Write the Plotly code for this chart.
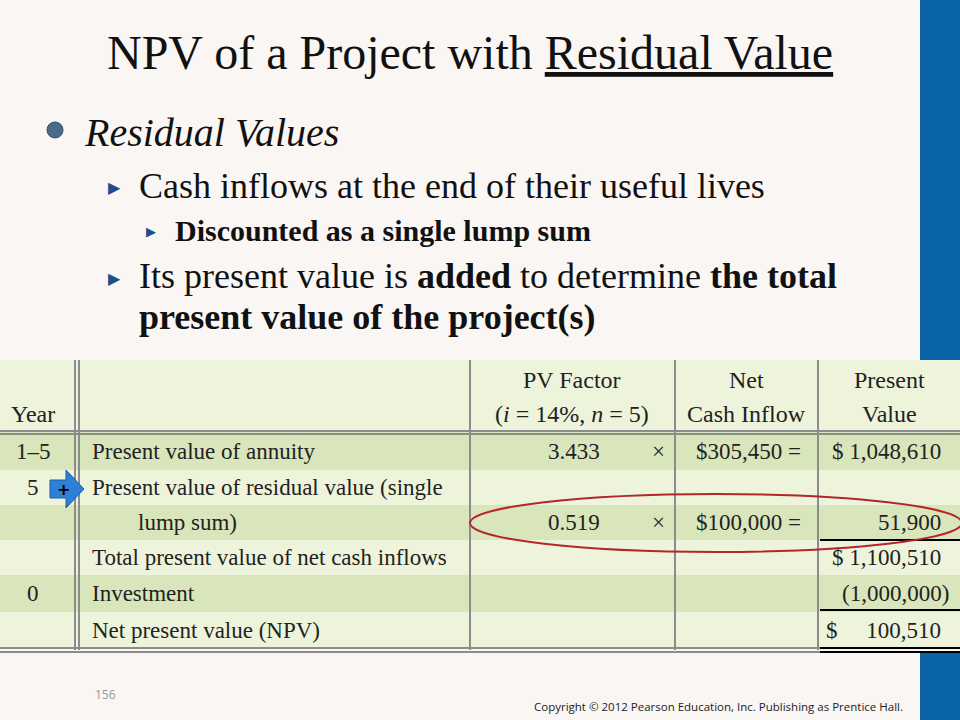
import plotly.graph_objects as go

# table data
years = ["1\u20135", "5", "", "", "0", ""]
items = ["Present value of annuity",
         "Present value of residual value (single",
         "        lump sum)",
         "Total present value of net cash inflows",
         "Investment",
         "Net present value (NPV)"]
pv_factors = ["3.433", "", "0.519", "", "", ""]
inflows = ["$305,450 =", "", "$100,000 =", "", "", ""]
present_values = ["$ 1,048,610", "", "51,900", "$ 1,100,510", "(1,000,000)", "$\u2003 100,510"]

SERIF = "Liberation Serif"
row_top = [432, 470, 505, 540, 575, 612]
row_bot = [470, 505, 540, 575, 612, 648]
row_fill = ["#d9e5bb", "#eef4dc", "#d9e5bb", "#eef4dc", "#d9e5bb", "#eef4dc"]

fig = go.Figure()
shapes = []
ann = []

# page background and blue side bar
shapes.append(dict(type="rect", x0=0, x1=960, y0=0, y1=720, fillcolor="#faf6f4", line_width=0, layer="below"))
shapes.append(dict(type="rect", x0=920, x1=960, y0=0, y1=360, fillcolor="#0b64a6", line_width=0, layer="below"))
shapes.append(dict(type="rect", x0=920, x1=960, y0=652, y1=720, fillcolor="#0b64a6", line_width=0, layer="below"))

# table background
shapes.append(dict(type="rect", x0=0, x1=960, y0=360, y1=432, fillcolor="#eef4dc", line_width=0, layer="below"))
for i in range(len(items)):
    shapes.append(dict(type="rect", x0=0, x1=960, y0=row_top[i], y1=row_bot[i],
                       fillcolor=row_fill[i], line_width=0, layer="below"))

grid = "#8c8c8c"
for x in [75, 79, 470, 675, 818]:
    shapes.append(dict(type="line", x0=x, x1=x, y0=360, y1=650, line=dict(color=grid, width=2)))
for y in [431, 434, 648, 652]:
    shapes.append(dict(type="line", x0=0, x1=960, y0=y, y1=y, line=dict(color=grid, width=2)))
# totals rules in present value column
for y in [540, 610, 648, 652]:
    shapes.append(dict(type="line", x0=820, x1=960, y0=y, y1=y, line=dict(color="black", width=2)))

# red ellipse
shapes.append(dict(type="circle", x0=470, x1=962, y0=494, y1=552, line=dict(color="#b3262b", width=2)))

# blue arrow with plus
shapes.append(dict(type="path", path="M 50 480 L 66 480 L 66 470 L 84 489 L 66 508 L 66 498 L 50 498 Z",
                   fillcolor="#2f7fd6", line=dict(color="#1e5ea8", width=1)))
# round bullet
shapes.append(dict(type="circle", x0=47, x1=63, y0=122, y1=138, fillcolor="#4b6a8a",
                   line=dict(color="#33506e", width=1)))

# header text
hdr = dict(family=SERIF, size=24, color="#222")
ann.append(dict(x=33, y=414, text="Year", font=hdr))
ann.append(dict(x=572, y=380, text="PV Factor", font=hdr))
ann.append(dict(x=572, y=414, text="(<i>i</i> = 14%, <i>n</i> = 5)", font=hdr))
ann.append(dict(x=746, y=380, text="Net", font=hdr))
ann.append(dict(x=746, y=414, text="Cash Inflow", font=hdr))
ann.append(dict(x=889, y=380, text="Present", font=hdr))
ann.append(dict(x=889, y=414, text="Value", font=hdr))

cell = dict(family=SERIF, size=23, color="#222")
for i in range(len(items)):
    yc = (row_top[i] + row_bot[i]) / 2
    if years[i]:
        ann.append(dict(x=33, y=yc, text=years[i], font=cell))
    ann.append(dict(x=90, y=yc, text=items[i].replace(" ", "&nbsp;"), font=cell, xanchor="left"))
    if pv_factors[i]:
        ann.append(dict(x=602, y=yc, text=pv_factors[i], font=cell, xanchor="right"))
        ann.append(dict(x=658, y=yc, text="\u00d7", font=cell))
    if inflows[i]:
        ann.append(dict(x=803, y=yc, text=inflows[i], font=cell, xanchor="right"))
    if present_values[i]:
        xr = 951 if present_values[i].startswith("(") else 943
        ann.append(dict(x=xr, y=yc, text=present_values[i], font=cell, xanchor="right"))
ann.append(dict(x=63, y=489, text="<b>+</b>", font=dict(family="DejaVu Sans", size=16, color="black")))

# slide text
ann.append(dict(x=470, y=52, text="NPV of a Project with <u>Residual Value</u>",
                font=dict(family=SERIF, size=48, color="#111")))
ann.append(dict(x=82, y=132, text="<i>Residual Values</i>", xanchor="left",
                font=dict(family=SERIF, size=40, color="#111")))
tri = dict(family="DejaVu Sans", size=16, color="#1f4e8a")
body = dict(family=SERIF, size=36, color="#111")
ann.append(dict(x=114, y=187, text="\u25b6", font=tri))
ann.append(dict(x=137, y=186, text="Cash inflows at the end of their useful lives", xanchor="left", font=body))
ann.append(dict(x=151, y=231, text="\u25b6", font=dict(family="DejaVu Sans", size=13, color="#1f4e8a")))
ann.append(dict(x=173, y=230, text="<b>Discounted as a single lump sum</b>", xanchor="left",
                font=dict(family=SERIF, size=30, color="#111")))
ann.append(dict(x=114, y=278, text="\u25b6", font=tri))
ann.append(dict(x=137, y=276, text="Its present value is <b>added</b> to determine <b>the total</b>",
                xanchor="left", font=body))
ann.append(dict(x=137, y=317, text="<b>present value of the project(s)</b>", xanchor="left", font=body))

ann.append(dict(x=105, y=694, text="156", font=dict(family="Open Sans", size=12, color="#999")))
ann.append(dict(x=905, y=706, xanchor="right",
                text="Copyright \u00a9 2012 Pearson Education, Inc. Publishing as Prentice Hall.",
                font=dict(family="Open Sans", size=11.5, color="#222")))

for a in ann:
    a.setdefault("showarrow", False)
    a.setdefault("xanchor", "center")
    a["yanchor"] = "middle"
    a["xref"] = "x"
    a["yref"] = "y"

fig.update_layout(width=960, height=720, margin=dict(l=0, r=0, t=0, b=0),
                  paper_bgcolor="#faf6f4", plot_bgcolor="#faf6f4",
                  shapes=shapes, annotations=ann, showlegend=False)
fig.update_xaxes(range=[0, 960], visible=False, fixedrange=True)
fig.update_yaxes(range=[720, 0], visible=False, fixedrange=True)
fig.write_html("out.html", config={"displayModeBar": False},
               post_script="document.body.style.margin='0';")
